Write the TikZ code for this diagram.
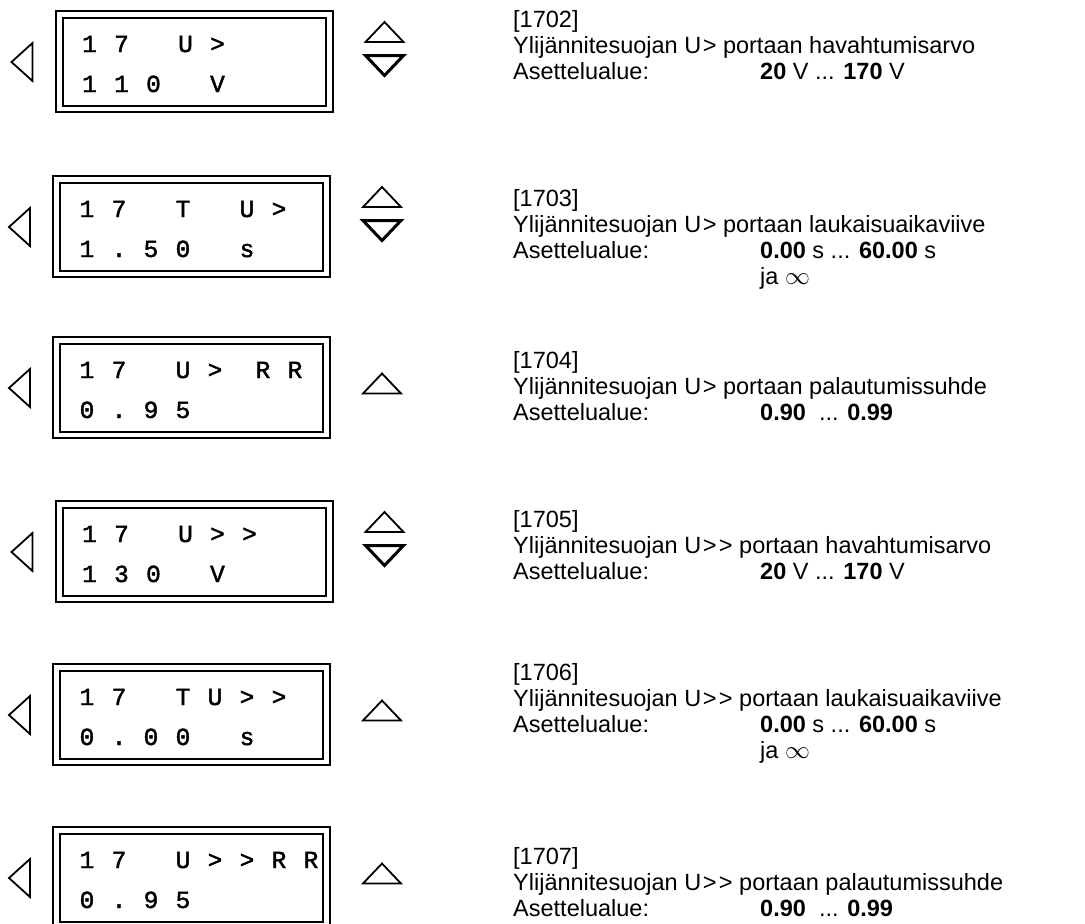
\documentclass[tikz,border=0pt]{standalone}
\usepackage{fontspec}
\setmainfont{Liberation Sans}
\newfontfamily\lcdfont[FakeBold=1.8]{Liberation Mono}
\usepackage{tikz}
\usetikzlibrary{calc}
\tikzset{
  lcdframe/.style={
    draw, line width=2pt
  },
  lcdchar/.style={
    font=\lcdfont\fontsize{24.5}{24.5}\selectfont, inner sep=0pt, anchor=base
  },
  navleft/.style={
    draw, line width=1.8pt, line join=miter
  },
  navup/.style={
    draw, line width=1.8pt, line join=miter
  },
  navdown/.style={
    draw, line width=3pt, line join=miter
  },
  desctext/.style={
    font=\fontsize{23.5}{26}\selectfont, inner sep=0pt, anchor=base west
  },
}

\begin{document}
\begin{tikzpicture}[x=1pt, y=-1pt]
  \useasboundingbox (0,0) rectangle (1085,924);

  % Display frames with the back arrow
  \foreach \r/\yt/\dx in {1/11/2.5, 2/176/0, 3/337/0, 4/501/2.5, 5/664/0, 6/827/0} {
    \coordinate (lcd\r) at (53+\dx,\yt);
    \draw[lcdframe] (lcd\r) rectangle ++(277,101);
    \draw[lcdframe] ($(lcd\r)+(7,6.5)$) rectangle ++(263,88);
    \draw[navleft] ($(lcd\r)+(-23,32)$) -- ++(0,38) -- ++(-21,-19) -- cycle;
  }

  % Up and down keys
  \foreach \r in {1,2,4} {
    \draw[navup] ($(lcd\r)+(310,31)$) -- ++(38,0) -- ++(-19,-20) -- cycle;
    \draw[navdown] ($(lcd\r)+(310,44.5)$) -- ++(38,0) -- ++(-19,20) -- cycle;
  }
  \foreach \r in {3,5,6} {
    \draw[navup] ($(lcd\r)+(310,56.5)$) -- ++(38,0) -- ++(-19,-20) -- cycle;
  }

  % Display characters, column pitch 32
  \foreach \r/\ln/\chars in {
      1/1/{0/1,1/7,3/U,4/>},          1/2/{0/1,1/1,2/0,4/V},
      2/1/{0/1,1/7,3/T,5/U,6/>},      2/2/{0/1,1/.,2/5,3/0,5/s},
      3/1/{0/1,1/7,3/U,4/>,5.5/R,6.5/R}, 3/2/{0/0,1/.,2/9,3/5},
      4/1/{0/1,1/7,3/U,4/>,5/>},      4/2/{0/1,1/3,2/0,4/V},
      5/1/{0/1,1/7,3/T,4/U,5/>,6/>},  5/2/{0/0,1/.,2/0,3/0,5/s},
      6/1/{0/1,1/7,3/U,4/>,5/>,6/R,7/R}, 6/2/{0/0,1/.,2/9,3/5}} {
    \foreach \c/\ch [count=\k] in \chars {
      \node[lcdchar] (ch\r-\ln-\k) at ($(lcd\r)+(34+32*\c,1+40*\ln)$) {\ch};
    }
  }

  % Parameter descriptions
  \foreach \id/\yb/\what/\range in {
      1702/27/{U\kern1.5pt> portaan havahtumisarvo}/{\textbf{20} V ... \textbf{170} V},
      1703/206/{U\kern1.5pt> portaan laukaisuaikaviive}/{\textbf{0.00} s ... \textbf{60.00} s},
      1704/368/{U\kern1.5pt> portaan palautumissuhde}/{\textbf{0.90}\ \ ... \textbf{0.99}},
      1705/527/{U\kern1.5pt>\kern2.5pt> portaan havahtumisarvo}/{\textbf{20} V ... \textbf{170} V},
      1706/680/{U\kern1.5pt>\kern2.5pt> portaan laukaisuaikaviive}/{\textbf{0.00} s ... \textbf{60.00} s},
      1707/864/{U\kern1.5pt>\kern2.5pt> portaan palautumissuhde}/{\textbf{0.90}\ \ ... \textbf{0.99}}} {
    \node[desctext] (id\id) at (513,\yb) {[\id]};
    \node[desctext] (desc\id) at (513,\yb+26) {Ylijännitesuojan \what};
    \node[desctext] (lbl\id) at (513,\yb+52) {Asettelualue:};
    \node[desctext] (rng\id) at (760,\yb+52) {\range};
  }
  \node[desctext] (inf1703) at (760,284) {ja $\infty$};
  \node[desctext] (inf1706) at (760,758) {ja $\infty$};
\end{tikzpicture}
\end{document}
